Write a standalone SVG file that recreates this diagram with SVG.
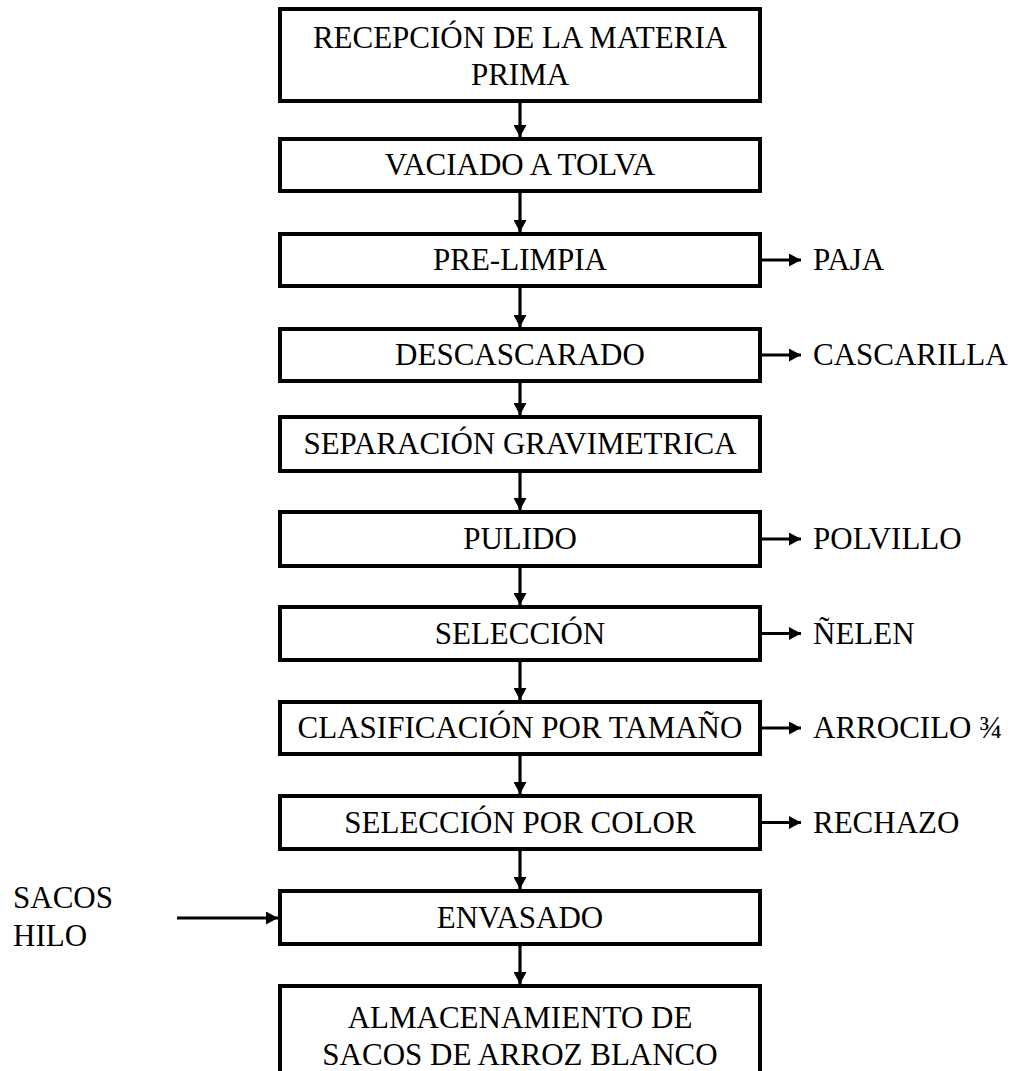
<svg xmlns="http://www.w3.org/2000/svg" width="1013" height="1071" viewBox="0 0 1013 1071">
<defs>
<style>
.box{fill:#fff;stroke:#000;stroke-width:4}
.t{font-family:"Liberation Serif","Times New Roman",serif;font-size:31px;fill:#000}
.c{text-anchor:middle}
.ln{stroke:#000;stroke-width:3.2;fill:none}
</style>
<marker id="ah" markerUnits="userSpaceOnUse" markerWidth="12" markerHeight="13" viewBox="0 0 12 13" refX="12" refY="6.5" orient="auto">
<path d="M0,0 L12,6.5 L0,13 Z" fill="#000"/>
</marker>
</defs>
<rect width="1013" height="1071" fill="#fff"/>
<g id="connectors">
<line class="ln" x1="520" y1="103" x2="520" y2="137" marker-end="url(#ah)"/>
<line class="ln" x1="520" y1="193" x2="520" y2="232" marker-end="url(#ah)"/>
<line class="ln" x1="520" y1="288" x2="520" y2="327" marker-end="url(#ah)"/>
<line class="ln" x1="520" y1="383" x2="520" y2="415" marker-end="url(#ah)"/>
<line class="ln" x1="520" y1="473" x2="520" y2="510" marker-end="url(#ah)"/>
<line class="ln" x1="520" y1="568" x2="520" y2="605" marker-end="url(#ah)"/>
<line class="ln" x1="520" y1="662" x2="520" y2="700" marker-end="url(#ah)"/>
<line class="ln" x1="520" y1="756" x2="520" y2="794" marker-end="url(#ah)"/>
<line class="ln" x1="520" y1="851" x2="520" y2="889" marker-end="url(#ah)"/>
<line class="ln" x1="520" y1="946" x2="520" y2="984" marker-end="url(#ah)"/>
<line class="ln" x1="762" y1="260" x2="801" y2="260" marker-end="url(#ah)"/>
<line class="ln" x1="762" y1="355" x2="801" y2="355" marker-end="url(#ah)"/>
<line class="ln" x1="762" y1="539" x2="801" y2="539" marker-end="url(#ah)"/>
<line class="ln" x1="762" y1="633.5" x2="801" y2="633.5" marker-end="url(#ah)"/>
<line class="ln" x1="762" y1="728" x2="801" y2="728" marker-end="url(#ah)"/>
<line class="ln" x1="762" y1="822.5" x2="801" y2="822.5" marker-end="url(#ah)"/>
<line class="ln" x1="177" y1="918" x2="278" y2="918" marker-end="url(#ah)"/>
</g>
<g id="n1"><rect class="box" x="280" y="9" width="480" height="92"/><text class="t c" x="520" y="48">RECEPCIÓN DE LA MATERIA</text><text class="t c" x="520" y="85">PRIMA</text></g>
<g id="n2"><rect class="box" x="280" y="139" width="480" height="52"/><text class="t c" x="520" y="175">VACIADO A TOLVA</text></g>
<g id="n3"><rect class="box" x="280" y="234" width="480" height="52"/><text class="t c" x="520" y="270">PRE-LIMPIA</text></g>
<g id="n4"><rect class="box" x="280" y="329" width="480" height="52"/><text class="t c" x="520" y="365">DESCASCARADO</text></g>
<g id="n5"><rect class="box" x="280" y="417" width="480" height="54"/><text class="t c" x="520" y="454">SEPARACIÓN GRAVIMETRICA</text></g>
<g id="n6"><rect class="box" x="280" y="512" width="480" height="54"/><text class="t c" x="520" y="549">PULIDO</text></g>
<g id="n7"><rect class="box" x="280" y="607" width="480" height="53"/><text class="t c" x="520" y="644">SELECCIÓN</text></g>
<g id="n8"><rect class="box" x="280" y="702" width="480" height="52"/><text class="t c" x="520" y="738">CLASIFICACIÓN POR TAMAÑO</text></g>
<g id="n9"><rect class="box" x="280" y="796" width="480" height="53"/><text class="t c" x="520" y="833">SELECCIÓN POR COLOR</text></g>
<g id="n10"><rect class="box" x="280" y="891" width="480" height="53"/><text class="t c" x="520" y="928">ENVASADO</text></g>
<g id="n11"><rect class="box" x="280" y="986" width="480" height="100"/><text class="t c" x="520" y="1028">ALMACENAMIENTO DE</text><text class="t c" x="520" y="1065">SACOS DE ARROZ BLANCO</text></g>
<g id="o1"><text class="t" x="813" y="270">PAJA</text></g>
<g id="o2"><text class="t" x="813" y="365">CASCARILLA</text></g>
<g id="o3"><text class="t" x="813" y="549">POLVILLO</text></g>
<g id="o4"><text class="t" x="813" y="644">ÑELEN</text></g>
<g id="o5"><text class="t" x="813" y="738">ARROCILO ¾</text></g>
<g id="o6"><text class="t" x="813" y="833">RECHAZO</text></g>
<g id="i1"><text class="t" x="13" y="908">SACOS</text><text class="t" x="13" y="946">HILO</text></g>
</svg>
